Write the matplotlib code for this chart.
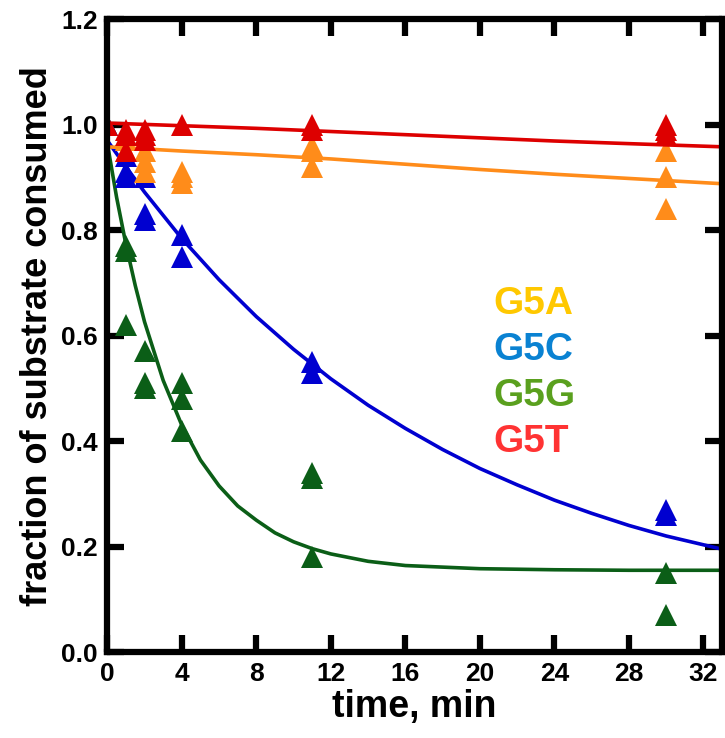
import matplotlib
matplotlib.use("Agg")
import matplotlib.pyplot as plt

plt.rcParams["font.family"] = ["Liberation Sans", "DejaVu Sans"]
plt.rcParams["font.weight"] = "bold"

# measured fraction of substrate consumed (replicates at each time point)
t_g5a = [1, 1, 2, 2, 2, 4, 4, 4, 11, 11, 11, 30, 30, 30]
y_g5a = [0.97, 0.95, 0.95, 0.93, 0.91, 0.91, 0.90, 0.89, 0.96, 0.95, 0.92, 0.95, 0.90, 0.84]

t_g5c = [0, 1, 1, 1, 2, 2, 2, 4, 4, 11, 11, 30, 30]
y_g5c = [1.0, 0.94, 0.91, 0.90, 0.90, 0.83, 0.82, 0.79, 0.75, 0.55, 0.53, 0.27, 0.26]

t_g5g = [0, 1, 1, 1, 2, 2, 2, 4, 4, 4, 11, 11, 11, 30, 30]
y_g5g = [1.0, 0.77, 0.76, 0.62, 0.57, 0.51, 0.50, 0.51, 0.48, 0.42, 0.34, 0.33, 0.18, 0.15, 0.07]

t_g5t = [0, 1, 1, 1, 2, 2, 2, 4, 11, 11, 30, 30, 30]
y_g5t = [1.0, 0.99, 0.98, 0.95, 0.99, 0.98, 0.97, 1.0, 1.0, 0.99, 1.0, 0.99, 0.98]

# fitted curves
fit_t_slow = [0, 4, 8, 12, 16, 20, 24, 28, 33]
fit_g5a = [0.958, 0.950, 0.943, 0.935, 0.925, 0.915, 0.906, 0.898, 0.888]
fit_g5t = [1.003, 0.998, 0.993, 0.987, 0.981, 0.975, 0.969, 0.964, 0.958]

fit_t_c = [0, 1, 2, 4, 6, 8, 10, 12, 14, 16, 18, 20, 22, 24, 26, 28, 30, 33]
fit_g5c = [0.97, 0.92, 0.872, 0.784, 0.706, 0.636, 0.574, 0.518, 0.468, 0.424,
           0.384, 0.348, 0.317, 0.288, 0.263, 0.240, 0.220, 0.195]

fit_t_g = [0, 0.5, 1, 1.5, 2, 3, 4, 5, 6, 7, 8, 9, 10, 11, 12, 14, 16, 20, 24, 28, 33]
fit_g5g = [0.965, 0.862, 0.773, 0.695, 0.626, 0.515, 0.43, 0.364, 0.315, 0.277, 0.25,
           0.226, 0.209, 0.196, 0.186, 0.172, 0.164, 0.158, 0.156, 0.155, 0.155]

labels = ["G5A", "G5C", "G5G", "G5T"]
label_colors = ["#ffc800", "#0a82d2", "#5aa01e", "#ff3333"]

fig = plt.figure(figsize=(7.25, 7.38), dpi=100)
ax = fig.add_axes([0.148, 0.1165, 0.848, 0.8575])

ms = 16
ax.plot(t_g5g, y_g5g, "^", color="#0b5e17", ms=ms, mew=0)
ax.plot(fit_t_g, fit_g5g, "-", color="#0b5e17", lw=2.6)
ax.plot(t_g5c, y_g5c, "^", color="#0000d0", ms=ms, mew=0)
ax.plot(fit_t_c, fit_g5c, "-", color="#0000d0", lw=2.6)
ax.plot(t_g5a, y_g5a, "^", color="#ff8c1a", ms=ms, mew=0)
ax.plot(fit_t_slow, fit_g5a, "-", color="#ff8c1a", lw=2.6)
ax.plot(t_g5t, y_g5t, "^", color="#dd0000", ms=ms, mew=0)
ax.plot(fit_t_slow, fit_g5t, "-", color="#dd0000", lw=2.6)

for i, (lab, c) in enumerate(zip(labels, label_colors)):
    ax.text(20.7, 0.66 - i * 0.087, lab, color=c, fontsize=28, fontweight="bold",
            va="center", ha="left")

ax.set_xlim(0, 33)
ax.set_ylim(0, 1.2)
ax.set_xticks(range(0, 33, 4))
ax.set_yticks([0, 0.2, 0.4, 0.6, 0.8, 1.0, 1.2])
ax.set_yticklabels(["0.0", "0.2", "0.4", "0.6", "0.8", "1.0", "1.2"])
for s in ax.spines.values():
    s.set_linewidth(4.5)
ax.tick_params(direction="in", length=12, width=4.5, top=True, right=True,
               labelsize=19, pad=7)
for lab in ax.get_xticklabels() + ax.get_yticklabels():
    lab.set_fontweight("bold")

ax.set_xlabel("time, min", fontsize=27, fontweight="bold", labelpad=2)
ax.set_ylabel("fraction of substrate consumed", fontsize=26, fontweight="bold", labelpad=4)

fig.savefig("out.png", dpi=100)
